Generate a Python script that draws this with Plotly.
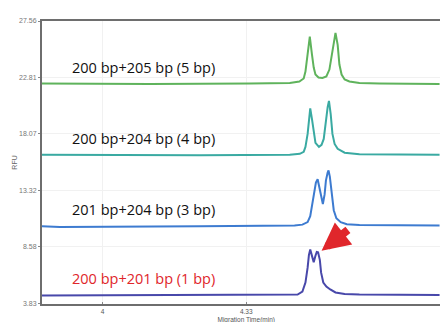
import plotly.graph_objects as go

# Migration time (min) and RFU readings for each electropherogram trace
t_205 = [3.861, 4.109, 4.338, 4.430, 4.452, 4.462, 4.466, 4.471, 4.476, 4.481, 4.485, 4.489,
         4.496, 4.505, 4.514, 4.521, 4.526, 4.531, 4.535, 4.540, 4.544, 4.549, 4.556, 4.567,
         4.590, 4.636, 4.774]
rfu_205 = [22.31, 22.27, 22.31, 22.36, 22.48, 22.73, 23.31, 24.73, 26.25, 24.73, 23.65, 23.06,
           22.81, 22.77, 22.90, 23.48, 24.73, 25.98, 26.56, 25.56, 23.90, 23.06, 22.65, 22.48,
           22.36, 22.31, 22.27]

t_204 = [3.861, 4.223, 4.430, 4.453, 4.462, 4.466, 4.471, 4.474, 4.477, 4.481, 4.485, 4.489,
         4.497, 4.503, 4.508, 4.512, 4.517, 4.520, 4.524, 4.528, 4.533, 4.540, 4.556, 4.590, 4.774]
rfu_204 = [16.32, 16.28, 16.32, 16.40, 16.57, 16.98, 18.07, 19.48, 20.21, 19.32, 18.07, 17.32,
           16.98, 17.15, 17.65, 18.90, 20.32, 20.84, 19.73, 18.07, 17.23, 16.82, 16.49, 16.36, 16.32]

t_201_204 = [3.861, 3.902, 4.223, 4.441, 4.459, 4.471, 4.477, 4.482, 4.487, 4.490, 4.494, 4.498,
             4.502, 4.506, 4.510, 4.513, 4.517, 4.519, 4.522, 4.526, 4.531, 4.537, 4.547, 4.561,
             4.590, 4.774]
rfu_201_204 = [10.32, 10.24, 10.32, 10.37, 10.45, 10.66, 11.16, 12.24, 13.32, 13.99, 14.26, 13.49,
               12.66, 12.18, 12.99, 14.15, 14.82, 15.01, 14.49, 13.07, 11.66, 10.99, 10.66, 10.49,
               10.41, 10.37]

t_201 = [3.861, 4.223, 4.448, 4.459, 4.466, 4.471, 4.474, 4.477, 4.481, 4.485, 4.489, 4.492,
         4.495, 4.499, 4.502, 4.507, 4.514, 4.523, 4.535, 4.556, 4.590, 4.774]
rfu_201 = [4.50, 4.54, 4.58, 4.83, 5.58, 6.83, 7.91, 8.35, 7.83, 7.30, 7.83, 8.16,
           8.13, 7.49, 6.41, 5.58, 5.25, 5.00, 4.75, 4.62, 4.58, 4.54]

labels = ["200 bp+205 bp (5 bp)", "200 bp+204 bp (4 bp)", "201 bp+204 bp (3 bp)", "200 bp+201 bp (1 bp)"]
label_rfu = [23.65, 17.65, 11.74, 5.91]

y_ticks = [27.56, 22.81, 18.07, 13.32, 8.58, 3.83]
y_ticktext = ["27.56", "22.81", "18.07", "13.32", "8.58", "3.83"]
x_ticks = [4.0, 4.33]
# the axis caption sits directly beneath the 4.33 tick, so it is set as that label's second line
x_title = "Migration Time(min)"
x_ticktext = ["4", "4.33<br>" + x_title]

series = [
    (t_205, rfu_205, "#5fb35c"),
    (t_204, rfu_204, "#3aaaa2"),
    (t_201_204, rfu_201_204, "#3d7bd0"),
    (t_201, rfu_201, "#4848aa"),
]
label_colors = ["#111111", "#111111", "#111111", "#e0262b"]

fig = go.Figure()
for t, r, c in series:
    fig.add_trace(go.Scatter(x=t, y=r, mode="lines", line=dict(color=c, width=2),
                             showlegend=False, hoverinfo="skip"))

for text, yv, col in zip(labels, label_rfu, label_colors):
    fig.add_annotation(x=3.925, y=yv, xref="x", yref="y", text=text, showarrow=False,
                       xanchor="left", yanchor="middle",
                       font=dict(family="Open Sans", size=14.5, color=col))

# red arrow marking the 1 bp split
fig.add_annotation(x=4.503, y=8.25, ax=4.567, ay=10.10, xref="x", yref="y",
                   axref="x", ayref="y", text="", showarrow=True,
                   arrowhead=2, arrowsize=0.7, arrowwidth=8, arrowcolor="#e0262b")

# y axis title
fig.add_annotation(x=-0.07, y=0.5, xref="paper", yref="paper", text="RFU", textangle=-90,
                   showarrow=False, xanchor="center",
                   font=dict(family="Liberation Sans", size=7, color="#666666"))

fig.update_layout(
    width=440, height=322,
    margin=dict(l=42, r=0, t=21, b=18),
    paper_bgcolor="white", plot_bgcolor="white",
    xaxis=dict(range=[3.861, 4.775], tickvals=x_ticks, ticktext=x_ticktext,
               automargin=False,
               showline=True, linecolor="#6e6e6e", linewidth=2, mirror=True,
               showgrid=True, gridcolor="#f1f1f1", zeroline=False,
               ticks="inside", ticklen=2, tickcolor="#888888",
               tickfont=dict(family="Liberation Sans", size=6.5, color="#555555")),
    yaxis=dict(range=[3.78, 27.56], tickvals=y_ticks, ticktext=y_ticktext,
               automargin=False,
               showline=True, linecolor="#6e6e6e", linewidth=2,
               showgrid=True, gridcolor="#f1f1f1", zeroline=False,
               ticks="outside", ticklen=2, tickcolor="#888888",
               tickfont=dict(family="Liberation Sans", size=7, color="#777777")),
)

fig.write_html("out.html")
